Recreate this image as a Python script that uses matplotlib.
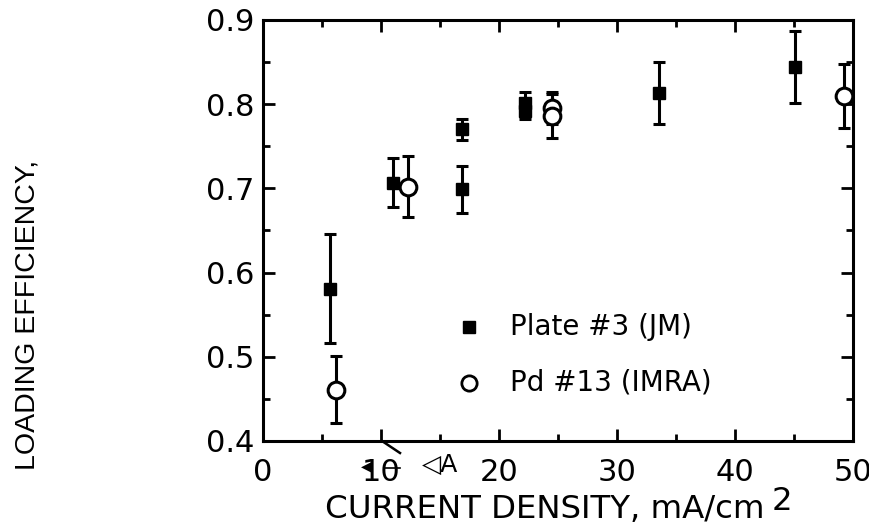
import matplotlib
matplotlib.use("Agg")
import matplotlib.pyplot as plt
from matplotlib.ticker import MultipleLocator
from matplotlib.lines import Line2D

# Plate #3 (JM) - filled squares
plate_x = [5.7, 11.0, 16.9, 16.9, 22.2, 22.2, 33.6, 45.1]
plate_y = [0.581, 0.707, 0.770, 0.699, 0.801, 0.792, 0.813, 0.844]
plate_err = [0.065, 0.029, 0.012, 0.028, 0.014, 0.010, 0.037, 0.043]

# Pd #13 (IMRA) - open circles
pd_x = [6.2, 12.3, 24.5, 24.5, 49.2]
pd_y = [0.461, 0.702, 0.796, 0.786, 0.810]
pd_err = [0.040, 0.036, 0.019, 0.026, 0.038]

x_ticks = [0, 10, 20, 30, 40, 50]
y_ticks = [0.4, 0.5, 0.6, 0.7, 0.8, 0.9]

plt.rcParams['font.family'] = ['DejaVu Sans']

fig = plt.figure(figsize=(8.7, 5.25), dpi=100)
ax = fig.add_axes([263/870, 1-441/525, (853-263)/870, (441-20)/525])

ax.errorbar(plate_x, plate_y, yerr=plate_err, fmt='s', color='black',
            markersize=9, elinewidth=2.2, capsize=4.5, capthick=2.2,
            markeredgecolor='black', markerfacecolor='black', zorder=3)
ax.errorbar(pd_x, pd_y, yerr=pd_err, fmt='o', color='black',
            markersize=12, elinewidth=2.2, capsize=4.5, capthick=2.2,
            markeredgecolor='black', markerfacecolor='white',
            markeredgewidth=2.2, zorder=4)

ax.set_xlim(0, 50)
ax.set_ylim(0.4, 0.9)
ax.set_xticks(x_ticks)
ax.set_xticklabels([str(t) for t in x_ticks])
ax.set_yticks(y_ticks)
ax.set_yticklabels([f"{t:.1f}" for t in y_ticks])
ax.xaxis.set_minor_locator(MultipleLocator(5))
ax.yaxis.set_minor_locator(MultipleLocator(0.05))

for s in ax.spines.values():
    s.set_linewidth(2.2)
ax.tick_params(which='both', direction='in', top=True, right=True, width=2)
ax.tick_params(which='major', length=8.5)
ax.tick_params(which='minor', length=5)
ax.tick_params(axis='x', which='major', labelsize=22, pad=12)
ax.tick_params(axis='y', which='major', labelsize=22, pad=6)

# Legend (drawn as in the original, inside the plot)
ax.plot([0.35], [0.271], transform=ax.transAxes, marker='s', color='black',
        markersize=9, linestyle='none')
ax.text(0.419, 0.271, "Plate #3 (JM)", transform=ax.transAxes, fontsize=20,
        va='center', ha='left')
ax.plot([0.35], [0.138], transform=ax.transAxes, marker='o',
        markerfacecolor='white', markeredgecolor='black', markeredgewidth=2,
        markersize=11, linestyle='none')
ax.text(0.419, 0.138, "Pd #13 (IMRA)", transform=ax.transAxes, fontsize=20,
        va='center', ha='left')

# Axis labels
fig.text(28/870, 1-315/525, "LOADING EFFICIENCY,", rotation=90,
         family='Liberation Sans', fontsize=20.5, ha='center', va='center')
fig.text(545/870, 1-518/525, "CURRENT DENSITY, mA/cm", fontsize=23.3,
         ha='center', va='baseline')
fig.text(772/870, 1-510/525, "2", fontsize=23.3, ha='left', va='baseline')

# stray glyph artifacts near the x axis
fig.add_artist(Line2D([382/870, 400/870], [1-441/525, 1-453/525],
                      color='black', linewidth=1.8))
fig.text(366/870, 1-466/525, "◀", fontsize=10, ha='center', va='center')
fig.text(440/870, 1-465/525, "◁A", fontsize=18, ha='center', va='center')
fig.add_artist(Line2D([385/870, 400/870], [1-468/525, 1-468/525],
                      color='black', linewidth=1.2))

fig.savefig("out.png", dpi=100)
